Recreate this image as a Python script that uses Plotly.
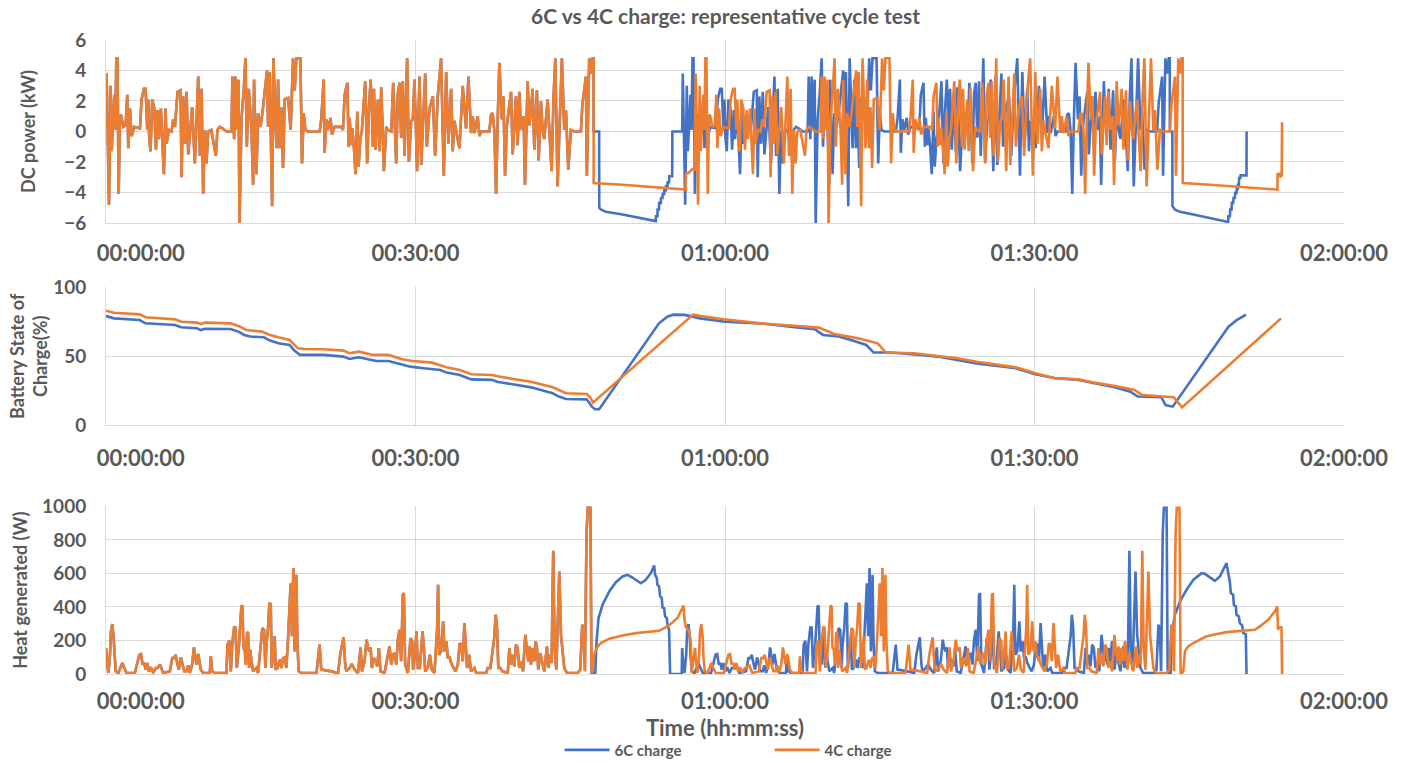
import plotly.graph_objects as go

BLUE = "#4472C4"
ORANGE = "#ED7D31"
GRID = "#D9D9D9"
TXT = "#595959"
FONT = "Lato"

SERIES = ["6C charge", "4C charge"]
X_TICKS = [0, 30, 60, 90, 120]
X_TICK_TEXT = ["00:00:00", "00:30:00", "01:00:00", "01:30:00", "02:00:00"]

# cycle start times (minutes) of the repeated drive profile
BLUE_CYCLE_STARTS = [0.0, 55.85]
ORANGE_CYCLE_STARTS = [0.0, 57.1]

# drive profile: (minutes from cycle start, DC power kW)
DRIVE_POWER = [
    (0.0, 0.1), (0.06, 3.8), (0.16, 0.1), (0.29, -4.8), (0.45, 3.0), (0.55, -1.3), (0.71, 1.0), (0.81, 2.4),
    (0.9, 0.1), (1.0, 4.8), (1.1, 4.8), (1.16, -1.4), (1.23, -4.1), (1.35, 1.0), (1.45, 1.1), (1.68, 0.3),
    (1.9, 0.4), (2.06, 2.4), (2.16, -1.1), (2.32, 1.5), (2.48, -0.3), (2.74, 0.3), (3.29, 0.2), (3.45, 2.1),
    (3.68, 2.8), (3.84, 2.8), (4.0, 0.1), (4.1, 2.1), (4.19, -0.4), (4.32, -1.3), (4.48, 2.1), (4.68, 1.5),
    (4.84, -1.2), (5.0, 1.4), (5.13, -0.5), (5.32, 1.5), (5.61, -2.8), (5.77, 1.5), (5.87, -0.8), (6.1, 0.1),
    (6.35, 0.0), (6.52, 0.8), (6.68, 0.3), (6.94, 2.6), (7.23, 2.7), (7.32, -3.0), (7.48, 2.3), (7.65, -0.8),
    (7.81, 2.6), (7.97, -1.5), (8.13, 0.1), (8.35, 1.6), (8.61, -2.1), (8.94, 3.6), (9.1, -1.6), (9.26, 2.8),
    (9.42, -4.1), (9.58, 0.1), (9.74, -2.1), (9.9, 0.0), (10.2, 0.1), (10.65, -1.6), (10.8, 0.1), (11.03, 0.3),
    (11.29, 0.2), (11.68, 0.0), (12.16, 0.0), (12.26, 3.6), (12.42, -0.5), (12.55, 3.6), (12.68, 0.1), (12.84, 3.4),
    (12.94, -6.1), (13.13, 0.8), (13.35, 2.7), (13.52, 4.8), (13.65, -1.0), (13.84, 2.8), (14.1, 0.1), (14.26, -3.5),
    (14.35, 3.4), (14.58, -2.8), (14.74, 1.2), (14.97, 0.3), (15.16, 1.2), (15.45, 3.2), (15.61, 4.0), (15.71, 0.3),
    (15.87, 3.9), (16.1, -4.9), (16.23, 4.8), (16.52, -1.1), (16.68, 3.4), (16.84, -1.1), (17.0, 1.6), (17.16, -2.4),
    (17.32, 2.1), (17.65, 2.2), (17.9, 0.1), (18.13, 4.8), (18.29, 2.7), (18.45, 4.8), (18.84, 4.8), (19.0, -2.1),
    (19.16, 1.2), (19.32, 0.1), (19.58, 0.0), (20.71, 0.0), (20.87, 0.8), (21.1, 3.4), (21.19, -1.4), (21.35, 0.8),
    (21.52, 0.1), (21.77, 0.9), (21.9, -0.2), (22.16, 0.3), (22.8, 0.3), (22.97, 0.1), (23.13, 2.4), (23.39, 3.2),
    (23.52, -1.0), (23.61, 0.9), (23.78, -0.9), (23.87, 0.2), (24.03, -1.0), (24.19, -2.8), (24.36, 1.3), (24.48, -2.3),
    (24.65, -0.5), (24.81, 0.1), (25.13, 3.3), (25.32, -2.1), (25.48, 1.4), (25.65, 3.4), (25.77, 1.6), (25.87, -1.0),
    (25.97, 2.8), (26.13, -1.2), (26.36, 2.1), (26.52, -1.3), (26.68, 2.9), (26.94, -2.6), (27.16, 0.3), (27.32, 0.1),
    (27.65, 0.0), (27.84, 3.2), (28.13, -2.1), (28.29, 2.5), (28.45, 3.2), (28.61, -0.4), (28.77, 3.3), (28.94, -1.6),
    (29.19, 4.8), (29.36, -2.0), (29.58, 0.7), (29.74, 0.8), (29.9, 3.4), (30.16, -2.6), (30.39, 3.6), (30.55, -2.2),
    (30.81, 1.2), (30.94, 3.8), (31.1, -1.0), (31.36, 1.5), (31.68, 2.3), (31.9, -1.6), (32.16, 2.3), (32.48, 4.8),
    (32.74, -2.9), (32.97, 3.9), (33.19, -0.8), (33.45, 2.8), (33.61, -1.3), (33.77, 0.7), (34.03, -0.3), (34.26, -1.1),
    (34.58, 3.0), (34.9, 0.2), (35.13, 3.6), (35.39, -0.1), (35.55, 1.0), (35.71, -0.1), (36.03, 1.0), (36.19, -0.3),
    (36.36, 0.0), (37.16, 0.0), (37.32, 1.1), (37.48, 1.2), (37.65, 0.0), (37.81, -4.1), (37.97, 0.8), (38.13, 4.5),
    (38.36, 0.8), (38.52, 2.3), (38.68, -2.9), (38.84, 0.3), (39.26, 2.6), (39.42, -1.5), (39.74, 2.3), (39.9, -0.9),
    (40.06, 2.6), (40.23, 0.1), (40.48, 1.0), (40.61, -3.5), (40.87, 3.3), (41.03, 0.4), (41.19, 1.3), (41.35, 2.8),
    (41.52, -1.2), (41.77, 2.7), (41.94, -1.9), (42.16, 2.0), (42.32, 0.1), (42.48, -0.5), (42.81, 2.1), (43.19, -2.6),
    (43.39, 2.4), (43.55, 4.8), (43.77, -3.6), (44.19, 4.8), (44.42, 0.1), (44.58, 1.4), (44.81, -2.5), (45.06, 0.1),
    (45.39, 0.0), (46.03, 0.0), (46.19, 1.9), (46.52, 3.6), (46.61, -2.9), (46.84, 4.8), (47.0, 3.8), (47.16, 4.8),
    (47.26, 4.8),
]

# drive profile: (minutes from cycle start, heat generated W)
DRIVE_HEAT = [
    (0.0, 155), (0.06, 95), (0.23, 6), (0.39, 115), (0.48, 254), (0.61, 298), (0.74, 215), (0.81, 105),
    (0.94, 16), (1.19, 6), (1.58, 66), (1.77, 36), (2.0, 6), (2.8, 6), (2.97, 56), (3.23, 115),
    (3.39, 119), (3.55, 56), (3.71, 66), (3.84, 26), (4.0, 66), (4.16, 16), (4.35, 40), (4.58, 6),
    (4.81, 36), (5.0, 36), (5.23, 56), (5.39, 36), (5.55, 6), (6.19, 16), (6.42, 95), (6.6, 95),
    (6.74, 115), (6.94, 56), (7.06, 26), (7.26, 99), (7.39, 56), (7.58, 16), (7.8, 16), (7.97, 52),
    (8.13, 6), (8.35, 56), (8.52, 159), (8.68, 105), (8.77, 56), (8.94, 119), (9.1, 56), (9.19, 26),
    (9.42, 6), (10.06, 6), (10.16, 105), (10.29, 16), (10.55, 6), (11.68, 6), (11.77, 175), (11.94, 199),
    (12.1, 16), (12.23, 175), (12.42, 278), (12.55, 278), (12.68, 36), (12.87, 155), (13.0, 284), (13.13, 409),
    (13.23, 403), (13.32, 155), (13.45, 145), (13.55, 56), (13.68, 250), (13.77, 244), (13.87, 36), (13.97, 145),
    (14.1, 76), (14.26, 16), (14.42, 26), (14.58, 36), (14.74, 6), (15.0, 155), (15.16, 274), (15.32, 264),
    (15.45, 36), (15.55, 175), (15.71, 274), (15.84, 423), (15.97, 417), (16.06, 36), (16.23, 135), (16.35, 225),
    (16.45, 26), (16.61, 36), (16.74, 66), (16.87, 85), (17.0, 36), (17.16, 95), (17.32, 99), (17.48, 36),
    (17.65, 215), (17.77, 433), (17.9, 542), (18.03, 225), (18.16, 632), (18.29, 135), (18.45, 592), (18.55, 185),
    (18.68, 16), (18.94, 6), (20.4, 6), (20.7, 175), (20.87, 26), (21.5, 20), (22.5, 6), (22.7, 115),
    (22.87, 165), (23.03, 219), (23.19, 56), (23.29, 16), (23.61, 36), (23.84, 60), (24.1, 26), (24.42, 6),
    (24.68, 159), (24.81, 16), (25.06, 76), (25.26, 205), (25.39, 155), (25.52, 135), (25.65, 159), (25.77, 36),
    (25.97, 95), (26.13, 76), (26.29, 46), (26.45, 155), (26.61, 16), (27.0, 6), (27.48, 165), (27.65, 56),
    (27.81, 115), (27.97, 125), (28.13, 56), (28.29, 205), (28.45, 264), (28.61, 76), (28.77, 473), (28.87, 483),
    (29.0, 56), (29.26, 6), (29.52, 215), (29.68, 195), (29.77, 26), (29.97, 135), (30.1, 254), (30.23, 36),
    (30.42, 36), (30.68, 254), (30.81, 155), (30.94, 16), (31.19, 36), (31.39, 115), (31.58, 26), (31.84, 6),
    (32.1, 274), (32.19, 533), (32.29, 115), (32.48, 135), (32.68, 314), (32.81, 135), (33.0, 195), (33.13, 95),
    (33.29, 105), (33.45, 66), (33.61, 46), (33.87, 16), (34.1, 56), (34.29, 185), (34.42, 175), (34.58, 76),
    (34.74, 304), (34.87, 135), (35.0, 36), (35.19, 115), (35.39, 16), (35.71, 36), (35.87, 6), (36.84, 6),
    (37.0, 36), (37.26, 36), (37.45, 135), (37.65, 225), (37.77, 354), (37.9, 274), (38.03, 36), (38.23, 36),
    (38.42, 16), (38.94, 6), (39.1, 155), (39.26, 56), (39.42, 115), (39.58, 46), (39.74, 175), (39.9, 155),
    (40.06, 36), (40.23, 76), (40.42, 16), (40.65, 234), (40.81, 135), (40.94, 76), (41.06, 165), (41.19, 56),
    (41.35, 155), (41.52, 76), (41.65, 195), (41.77, 155), (41.9, 26), (42.1, 125), (42.26, 76), (42.48, 16),
    (42.74, 165), (42.87, 36), (43.06, 115), (43.19, 66), (43.35, 735), (43.48, 155), (43.65, 26), (43.94, 612),
    (44.1, 234), (44.26, 115), (44.42, 36), (44.68, 6), (45.71, 6), (45.97, 26), (46.16, 294), (46.29, 274),
    (46.42, 16), (46.58, 840), (46.68, 930), (46.77, 1100), (46.94, 1100), (47.06, 6),
]

# charge phases: (minutes, DC power kW)
BLUE_CHARGE1_POWER = [
    (47.27, 0.0), (47.8, 0.0), (47.81, -5.0), (47.97, -5.12), (48.45, -5.27), (50.07, -5.45), (51.68, -5.66),
    (53.29, -5.88), (53.31, -5.56), (53.45, -5.56), (53.47, -5.12), (53.6, -5.12), (53.62, -4.68), (53.78, -4.68),
    (53.8, -4.36), (53.94, -4.36), (53.96, -4.1), (54.1, -4.1), (54.12, -3.86), (54.26, -3.86), (54.28, -3.59),
    (54.42, -3.59), (54.44, -3.33), (54.58, -3.33), (54.6, -2.94), (54.88, -2.94), (54.9, 0.0), (55.84, 0.0),
]
BLUE_CHARGE2_POWER = [
    (103.12, 0.0), (103.36, 0.0), (103.37, -4.9), (103.6, -5.12), (104.1, -5.27), (105.4, -5.45), (107.0, -5.66),
    (108.77, -5.93), (108.8, -5.56), (108.94, -5.56), (108.97, -5.12), (109.1, -5.12), (109.13, -4.68),
    (109.26, -4.68), (109.29, -4.36), (109.42, -4.36), (109.45, -4.03), (109.58, -4.03), (109.6, -3.77),
    (109.7, -3.77), (109.72, -3.49), (109.81, -3.49), (109.84, -3.05), (109.95, -3.05), (109.98, -2.88),
    (110.55, -2.88), (110.56, 0.0),
]
ORANGE_CHARGE1_POWER = [
    (47.27, -3.38), (50.07, -3.49), (53.29, -3.64), (56.2, -3.81), (56.21, -2.77), (56.5, -2.7),
    (56.84, -2.46), (57.05, -2.5),
]
ORANGE_CHARGE2_POWER = [
    (104.37, -3.38), (107.0, -3.49), (110.2, -3.64), (113.55, -3.81), (113.56, -2.72), (113.66, -2.94),
    (113.79, -2.72), (113.86, -2.94), (113.96, -2.9), (114.0, 0.61),
]

# charge phases: (minutes, heat W)
BLUE_CHARGE1_HEAT = [
    (47.42, 6), (47.55, 195), (47.74, 334), (48.13, 413), (48.78, 493), (49.42, 548), (50.07, 582),
    (50.55, 592), (51.03, 576), (51.84, 542), (52.32, 562), (52.81, 602), (53.13, 648), (53.23, 592),
    (53.39, 572), (53.45, 532), (53.61, 523), (53.71, 463), (53.87, 453), (53.94, 397), (54.1, 393),
    (54.19, 344), (54.36, 334), (54.45, 284), (54.58, 264), (54.68, 0), (55.8, 0),
]
BLUE_CHARGE2_HEAT = [
    (103.19, 0), (103.29, 234), (103.61, 354), (104.1, 433), (104.74, 503), (105.39, 562), (106.19, 602),
    (106.52, 598), (107.48, 556), (107.97, 582), (108.61, 662), (108.77, 612), (108.94, 548), (109.03, 483),
    (109.26, 473), (109.32, 413), (109.52, 403), (109.58, 354), (109.81, 344), (109.9, 304), (110.13, 290),
    (110.23, 244), (110.48, 238), (110.55, 0),
]
ORANGE_CHARGE1_HEAT = [
    (47.16, 16), (47.32, 115), (47.55, 155), (47.97, 185), (48.78, 211), (50.07, 230), (51.36, 244),
    (52.97, 254), (53.61, 258), (54.58, 290), (55.39, 334), (55.87, 393), (55.97, 409), (56.1, 314),
    (56.19, 284), (56.52, 254), (56.68, 195), (56.77, 6),
]
ORANGE_CHARGE2_HEAT = [
    (104.26, 0), (104.42, 16), (104.58, 135), (104.9, 165), (105.39, 185), (106.68, 225), (108.61, 250),
    (110.23, 258), (111.35, 264), (111.84, 284), (112.65, 324), (113.29, 373), (113.52, 403), (113.61, 264),
    (113.71, 284), (113.94, 278), (114.0, 0),
]

# battery state of charge: (minutes, %)
BLUE_SOC = [
    (0.0, 79.2), (0.77, 77.5), (3.26, 76.3), (3.83, 73.9), (6.7, 72.7), (7.28, 71.0), (8.81, 70.3), (9.2, 69.0),
    (9.58, 70.0), (12.07, 69.8), (12.84, 67.9), (13.4, 65.5), (14.0, 64.3), (15.3, 63.8), (15.9, 61.4),
    (16.7, 59.4), (17.8, 58.2), (18.2, 54.6), (18.8, 51.0), (21.1, 51.0), (23.0, 49.8), (23.6, 48.1),
    (24.5, 49.3), (25.5, 47.8), (26.2, 46.6), (27.4, 46.6), (28.7, 44.2), (29.5, 42.5), (30.8, 41.3),
    (32.4, 40.1), (33.0, 38.2), (34.3, 36.5), (35.4, 33.3), (37.4, 32.9), (37.9, 31.6), (40.4, 28.5),
    (41.2, 27.5), (43.3, 23.2), (43.9, 20.8), (44.6, 19.1), (46.6, 18.8), (47.1, 13.5), (47.4, 11.6),
    (47.8, 11.6), (53.6, 73.9), (54.4, 78.7), (55.0, 80.2), (56.1, 80.0), (57.6, 77.5), (60.0, 75.1),
    (63.4, 73.9), (67.2, 70.8), (68.7, 69.6), (69.5, 65.5), (71.0, 64.3), (72.2, 61.8), (73.7, 58.2),
    (74.4, 52.7), (76.0, 52.7), (79.0, 51.0), (80.6, 49.8), (82.5, 47.3), (84.4, 44.9), (88.2, 41.3),
    (90.1, 37.0), (92.0, 34.1), (94.3, 32.9), (95.8, 30.4), (97.8, 27.5), (99.3, 24.4), (100.0, 20.8),
    (102.3, 20.3), (102.7, 14.7), (103.4, 13.5), (108.8, 71.5), (109.6, 76.3), (110.5, 80.2),
]
ORANGE_SOC = [
    (0.0, 83.1), (0.77, 81.6), (3.26, 80.4), (3.83, 78.3), (6.7, 76.8), (7.28, 75.1), (8.81, 74.4), (9.2, 73.4),
    (9.58, 74.4), (12.07, 73.9), (12.84, 72.0), (13.6, 69.1), (15.1, 67.9), (15.9, 65.5), (16.7, 63.8),
    (17.8, 61.8), (18.6, 55.8), (19.2, 55.3), (21.1, 55.1), (23.0, 54.1), (23.6, 52.2), (24.5, 53.4),
    (25.9, 51.0), (27.4, 51.0), (28.7, 47.8), (29.7, 46.6), (31.6, 45.4), (32.4, 43.7), (33.0, 42.0),
    (34.3, 40.1), (35.4, 37.0), (37.4, 36.5), (38.1, 35.3), (40.4, 32.4), (41.2, 31.6), (43.3, 27.5),
    (44.1, 25.1), (44.6, 23.2), (46.6, 22.7), (47.0, 19.6), (47.2, 16.4), (56.9, 80.2), (57.6, 79.2),
    (59.9, 76.8), (63.4, 73.9), (67.2, 71.5), (69.1, 70.8), (70.6, 66.2), (72.9, 63.0), (74.8, 59.4),
    (75.6, 52.7), (78.3, 52.2), (80.6, 50.2), (82.5, 48.6), (84.4, 46.1), (88.2, 42.0), (90.1, 37.7),
    (92.0, 34.1), (94.3, 33.3), (95.8, 30.9), (97.8, 28.5), (99.7, 25.6), (100.4, 22.0), (103.5, 20.3),
    (104.3, 13.0), (113.9, 77.5),
]


def shifted(pairs, dt):
    return [(t + dt, v) for t, v in pairs]


def build(profile, starts, charge1, charge2):
    pts = shifted(profile, starts[0]) + charge1 + shifted(profile, starts[1]) + charge2
    return [p[0] for p in pts], [p[1] for p in pts]


def unzip(pairs):
    return [p[0] for p in pairs], [p[1] for p in pairs]


series = {
    "blue": dict(
        color=BLUE, name=SERIES[0],
        power=build(DRIVE_POWER, BLUE_CYCLE_STARTS, BLUE_CHARGE1_POWER, BLUE_CHARGE2_POWER),
        heat=build(DRIVE_HEAT, BLUE_CYCLE_STARTS, BLUE_CHARGE1_HEAT, BLUE_CHARGE2_HEAT),
        soc=unzip(BLUE_SOC)),
    "orange": dict(
        color=ORANGE, name=SERIES[1],
        power=build(DRIVE_POWER, ORANGE_CYCLE_STARTS, ORANGE_CHARGE1_POWER, ORANGE_CHARGE2_POWER),
        heat=build(DRIVE_HEAT, ORANGE_CYCLE_STARTS, ORANGE_CHARGE1_HEAT, ORANGE_CHARGE2_HEAT),
        soc=unzip(ORANGE_SOC)),
}

fig = go.Figure()
for key in ["blue", "orange"]:
    s = series[key]
    line = dict(color=s["color"], width=2.6)
    fig.add_trace(go.Scatter(x=s["power"][0], y=s["power"][1], mode="lines", line=line, name=s["name"],
                             legendgroup=key, showlegend=True, xaxis="x", yaxis="y"))
    fig.add_trace(go.Scatter(x=s["soc"][0], y=s["soc"][1], mode="lines", line=line, name=s["name"],
                             legendgroup=key, showlegend=False, xaxis="x2", yaxis="y2"))
    fig.add_trace(go.Scatter(x=s["heat"][0], y=s["heat"][1], mode="lines", line=line, name=s["name"],
                             legendgroup=key, showlegend=False, xaxis="x3", yaxis="y3"))

xtick_font = dict(family=FONT, size=22, color=TXT, weight="bold")
ytick_font = dict(family=FONT, size=19, color=TXT, weight="bold")
title_font = dict(family=FONT, size=18, color=TXT, weight="bold")
first_label = "\u00a0" * 13 + X_TICK_TEXT[0]
tick_text = [first_label] + X_TICK_TEXT[1:]

xcommon = dict(range=[0, 120], tickvals=X_TICKS, ticktext=tick_text, showgrid=True, gridcolor=GRID,
               gridwidth=1, showline=True, linecolor=GRID, linewidth=1, zeroline=False, ticks="",
               tickfont=xtick_font, domain=[0, 1], automargin=False)
ycommon = dict(showgrid=True, gridcolor=GRID, gridwidth=1, showline=True, linecolor=GRID, linewidth=1,
               zeroline=False, ticks="", tickfont=ytick_font, ticklabelstandoff=15, automargin=False)

fig.update_layout(
    width=1402, height=763,
    margin=dict(l=106, r=58, t=40, b=89, autoexpand=False),
    paper_bgcolor="white", plot_bgcolor="white",
    title=dict(text="6C vs 4C charge: representative cycle test", x=0.5175, xanchor="center",
               y=1 - 17 / 763, yanchor="middle",
               font=dict(family=FONT, size=21, color=TXT, weight="bold")),
    xaxis=dict(anchor="y", ticklabelstandoff=11, **xcommon),
    xaxis2=dict(anchor="y2", ticklabelstandoff=13, **xcommon),
    xaxis3=dict(anchor="y3", ticklabelstandoff=8,
                title=dict(text="Time (hh:mm:ss)", font=dict(family=FONT, size=22, color=TXT, weight="bold"),
                           standoff=3), **xcommon),
    yaxis=dict(domain=[0.7114, 1.0], range=[-6, 6], dtick=2, anchor="x",
               title=dict(text="DC power (kW)", font=title_font, standoff=23), **ycommon),
    yaxis2=dict(domain=[0.3923, 0.6099], range=[0, 100], dtick=50, anchor="x2",
                title=dict(text="Battery State of<br>Charge(%)", font=title_font, standoff=0), **ycommon),
    yaxis3=dict(domain=[0.0, 0.2642], range=[0, 1000], dtick=200, anchor="x3",
                title=dict(text="Heat generated (W)", font=title_font, standoff=9), **ycommon),
    legend=dict(orientation="h", x=0.536, xanchor="center", y=-0.12, yanchor="middle",
                font=dict(family=FONT, size=15, color=TXT, weight="bold"),
                itemwidth=45, entrywidth=150, entrywidthmode="pixels", bgcolor="rgba(0,0,0,0)"),
    showlegend=True,
)

fig.write_html("out.html")
